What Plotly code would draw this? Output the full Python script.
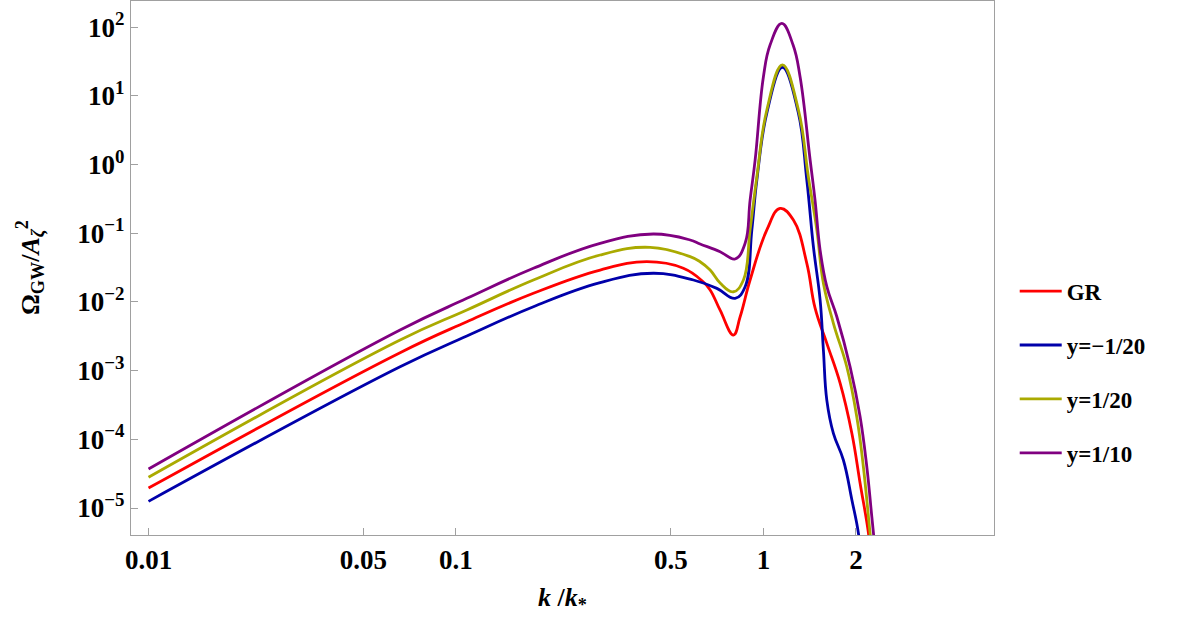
import plotly.graph_objects as go

# ---- data (k/k_*, Omega_GW/A_zeta^2) ----
k_gr = [0.01, 0.0658, 0.1085, 0.1786, 0.2944, 0.4177, 0.549, 0.6366, 0.671, 0.723,
        0.799, 0.840, 0.905, 1.026, 1.133, 1.252, 1.384, 1.472, 1.608, 1.776,
        1.940, 2.063, 2.196, 2.240]
om_gr = [1.95e-5, 1.83e-3, 5.16e-3, 1.34e-2, 2.92e-2, 3.86e-2, 3.10e-2, 1.97e-2, 1.50e-2, 7.6e-3,
         3.3e-3, 6.1e-3, 2.09e-2, 0.112, 0.231, 0.156, 3.66e-2, 8.2e-3, 2.5e-3, 6.6e-4,
         1.22e-4, 2.3e-5, 4.3e-6, 1.75e-6]

k_m20 = [0.01, 0.0658, 0.1085, 0.1786, 0.2944, 0.4385, 0.592, 0.7056, 0.809, 0.872,
         0.917, 0.952, 1.028, 1.153, 1.297, 1.384, 1.454, 1.529, 1.567, 1.608,
         1.689, 1.820, 1.940, 2.037, 2.078]
om_m20 = [1.25e-5, 1.14e-3, 3.20e-3, 8.53e-3, 1.91e-2, 2.62e-2, 2.09e-2, 1.58e-2, 1.13e-2, 1.67e-2,
          0.112, 0.597, 5.85, 26.2, 5.85, 0.597, 6.4e-2, 1.07e-2, 2.0e-3, 3.7e-4,
          1.22e-4, 5.0e-5, 1.31e-5, 4.3e-6, 1.75e-6]

k_p20 = [0.01, 0.0658, 0.1085, 0.1786, 0.2944, 0.428, 0.5776, 0.6223, 0.671, 0.723,
         0.799, 0.861, 0.905, 0.951, 1.026, 1.153, 1.300, 1.400, 1.492, 1.567,
         1.689, 1.867, 2.012, 2.114, 2.223, 2.274]
om_p20 = [2.80e-5, 2.79e-3, 7.64e-3, 2.09e-2, 4.83e-2, 6.25e-2, 4.57e-2, 3.86e-2, 2.92e-2, 1.89e-2,
          1.41e-2, 2.09e-2, 0.112, 0.640, 6.25, 28.3, 6.25, 0.668, 0.112, 1.87e-2,
          4.9e-3, 1.14e-3, 2.14e-4, 3.99e-5, 4.3e-6, 1.75e-6]

k_p10 = [0.01, 0.0658, 0.1085, 0.1786, 0.2944, 0.4385, 0.5776, 0.6223, 0.723, 0.809,
         0.872, 0.905, 0.940, 1.0, 1.051, 1.148, 1.249, 1.316, 1.419, 1.472,
         1.529, 1.608, 1.733, 1.914, 2.063, 2.169, 2.252, 2.326]
om_p10 = [3.7e-5, 3.91e-3, 1.13e-2, 3.10e-2, 7.16e-2, 9.77e-2, 8.0e-2, 7.0e-2, 5.4e-2, 4.23e-2,
          7.16e-2, 0.305, 1.17, 19.1, 55.2, 114, 55.2, 19.1, 1.17, 0.305,
          5.7e-2, 1.67e-2, 6.1e-3, 1.14e-3, 2.14e-4, 4.0e-5, 7.5e-6, 1.75e-6]

series_names = ["GR", "y=\u22121/20", "y=1/20", "y=1/10"]
series_colors = ["#FF0000", "#0000AA", "#AAAA00", "#800080"]

x_tickvals = [0.01, 0.05, 0.1, 0.5, 1, 2]
x_ticktext = ["0.01", "0.05", "0.1", "0.5", "1", "2"]
y_tickvals = [1e-5, 1e-4, 1e-3, 1e-2, 1e-1, 1e0, 1e1, 1e2]
y_exponents = ["\u22125", "\u22124", "\u22123", "\u22122", "\u22121", "0", "1", "2"]

FONT = "Liberation Serif, Times New Roman, Times, serif"

fig = go.Figure()
data = [(k_gr, om_gr), (k_m20, om_m20), (k_p20, om_p20), (k_p10, om_p10)]
for (kk, oo), name, col in zip(data, series_names, series_colors):
    fig.add_trace(go.Scatter(
        x=kk, y=oo, mode="lines", name="<b>" + name + "</b>", legendgroup=name,
        line=dict(color=col, width=2.8, shape="spline", smoothing=1.2),
    ))

axis_common = dict(
    showline=True, linecolor="#A0A0A0", linewidth=1.3, mirror=True,
    ticks="inside", ticklen=7, tickcolor="#A0A0A0", tickwidth=1,
    showgrid=False, zeroline=False,
    tickfont=dict(family=FONT, size=27, color="black"),
)

fig.update_layout(
    width=1200, height=625,
    margin=dict(l=131, r=206, t=1, b=90),
    plot_bgcolor="white", paper_bgcolor="white",
    xaxis=dict(type="log", range=[-2.057, 0.750], tickvals=x_tickvals,
               ticktext=["<b>" + t + "</b>" for t in x_ticktext], **axis_common),
    yaxis=dict(type="log", range=[-5.393, 2.383], tickvals=y_tickvals,
               ticktext=["<b>10<sup>" + e + "</sup></b>" for e in y_exponents],
               **axis_common),
    legend=dict(x=1.024, y=0.305, xanchor="left", yanchor="middle",
                font=dict(family=FONT, size=23, color="black"),
                tracegroupgap=21, itemwidth=42, bgcolor="rgba(0,0,0,0)"),
    showlegend=True,
)

fig.add_annotation(
    text="<b><i>k</i> /<i>k</i><sub>*</sub></b>", xref="paper", yref="paper",
    x=0.5, y=-0.12, xanchor="center", yanchor="middle", showarrow=False,
    font=dict(family=FONT, size=26, color="black"),
)
fig.add_annotation(
    text="<b>\u03a9<sub>GW</sub>/<i>A</i><sub><i>\u03b6</i></sub><sup>2</sup></b>",
    xref="paper", yref="paper", x=-0.117, y=0.5, xanchor="center", yanchor="middle",
    textangle=-90, showarrow=False,
    font=dict(family=FONT, size=26, color="black"),
)

fig.write_html("out.html")
